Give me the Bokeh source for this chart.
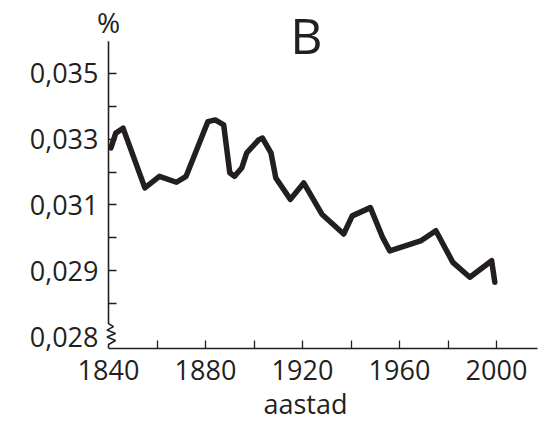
from bokeh.plotting import figure
from bokeh.models import Range1d, FixedTicker, CustomJSTickFormatter, Label, LinearAxis
from bokeh.embed import file_html
from bokeh.resources import INLINE

# ---- data ----
years = [1841, 1843, 1846, 1855, 1861, 1868, 1872, 1881, 1884, 1887.5, 1890, 1892,
         1895, 1897, 1902, 1903.5, 1907, 1909, 1915, 1920.5, 1928, 1937, 1940.5,
         1948, 1953, 1956, 1968.7, 1975, 1982, 1989, 1998, 1999.3]
share = [0.03273, 0.03318, 0.03333, 0.03152, 0.03187, 0.03169, 0.03187, 0.03353,
         0.03358, 0.03343, 0.03198, 0.03187, 0.03213, 0.03258, 0.03298, 0.03303,
         0.03258, 0.03182, 0.03117, 0.03167, 0.03072, 0.03012, 0.03067, 0.03092,
         0.03002, 0.02961, 0.02991, 0.03022, 0.02926, 0.02881, 0.02931, 0.02866]

x_label_ticks = [1840, 1880, 1920, 1960, 2000]
x_marks = [1860, 1880, 1900, 1920, 1940, 1960, 1980, 2000]
y_label_ticks = [0.027, 0.029, 0.031, 0.033, 0.035]   # 0.027 sits below the axis break, shown as 0,028
y_marks = [0.028, 0.029, 0.030, 0.031, 0.032, 0.033, 0.034, 0.035]

x_title = "aastad"
y_unit = "%"
panel_title = "B"

INK = "#231f20"
FONT = "Open Sans"

W, H = 557, 424
B_LEFT, B_RIGHT, B_TOP, B_BOTTOM = 94, 20, 0, 74
PX_YEAR = 2.425          # pixels per year
PX_UNIT = 33166.7        # pixels per unit of share
AXIS_X_PX = 108          # where 1840 sits
AXIS_Y_PX = 350          # where the x axis sits
Y_REF_PX, Y_REF = 272, 0.029

x_start = x_label_ticks[0]
x0 = x_start - (AXIS_X_PX - B_LEFT) / PX_YEAR
x1 = x_start + (W - B_RIGHT - AXIS_X_PX) / PX_YEAR


def y_at_px(py):
    return Y_REF + (Y_REF_PX - py) / PX_UNIT


y0 = y_at_px(H - B_BOTTOM)
y1 = y_at_px(B_TOP)

p = figure(width=W, height=H, x_range=Range1d(x0, x1), y_range=Range1d(y0, y1),
           output_backend="svg", toolbar_location=None,
           min_border_left=B_LEFT, min_border_right=B_RIGHT,
           min_border_top=B_TOP, min_border_bottom=B_BOTTOM)
p.outline_line_color = None
p.grid.visible = False
p.background_fill_color = "white"
p.border_fill_color = "white"

# x axis
xa = p.xaxis[0]
xa.ticker = FixedTicker(ticks=x_label_ticks, minor_ticks=x_marks)
xa.bounds = (x_start, x1)
xa.major_tick_in = 0
xa.major_tick_out = 0
xa.minor_tick_in = 8
xa.minor_tick_out = 0
xa.minor_tick_line_color = INK
xa.minor_tick_line_width = 1.3
xa.axis_line_color = INK
xa.axis_line_width = 1.6
xa.major_label_text_font = FONT
xa.major_label_text_font_size = "27px"
xa.major_label_text_color = INK
xa.major_label_standoff = 11
xa.axis_label = x_title + "\u00a0" * 3
xa.axis_label_text_font = FONT
xa.axis_label_text_font_size = "27px"
xa.axis_label_text_font_style = "normal"
xa.axis_label_text_color = INK
xa.axis_label_standoff = 2

# y axis labels (drawn beside the frame edge, pulled in to sit left of 1840)
ya = p.yaxis[0]
ya.ticker = FixedTicker(ticks=y_label_ticks, minor_ticks=[])
ya.formatter = CustomJSTickFormatter(
    code="return tick < 0.0275 ? '0,028' : tick.toFixed(3).replace('.', ',');")
ya.major_tick_in = 0
ya.major_tick_out = 0
ya.minor_tick_in = 0
ya.minor_tick_out = 0
ya.axis_line_color = None
ya.major_label_text_font = FONT
ya.major_label_text_font_size = "27px"
ya.major_label_text_color = INK
ya.major_label_standoff = 10 - (AXIS_X_PX - B_LEFT)

# y axis ticks, drawn at 1840
yt = LinearAxis(fixed_location=x_start,
                ticker=FixedTicker(ticks=y_marks, minor_ticks=[]),
                formatter=CustomJSTickFormatter(code="return '';"))
yt.major_tick_in = 8
yt.major_tick_out = 0
yt.minor_tick_in = 0
yt.minor_tick_out = 0
yt.major_tick_line_color = INK
yt.major_tick_line_width = 1.3
yt.axis_line_color = None
yt.major_label_standoff = 0
yt.major_label_text_font_size = "1px"
p.add_layout(yt, "left")

# vertical axis line with break (zigzag), built from the axis extent
zig_px = [(0, 25), (5, 22), (-1.5, 18.5), (7, 15), (-1.5, 11.5), (7, 8), (0, 4), (0, 0)]
ax_x = [x_start, x_start]
ax_y = [y_at_px(41), y_at_px(AXIS_Y_PX - 25)]
for dxp, dyp in zig_px:
    ax_x.append(x_start + dxp / PX_YEAR)
    ax_y.append(y_at_px(AXIS_Y_PX - dyp))
p.line(ax_x, ax_y, line_color=INK, line_width=1.6)

# data line
p.line(years, share, line_color=INK, line_width=5.5, line_join="round", line_cap="round")

# texts (placed by their visual centre)
p.add_layout(Label(x=x_start, y=y_at_px(22), text=y_unit, text_align="center",
                   text_baseline="middle", text_font=FONT, text_font_size="28px",
                   text_color=INK))
p.add_layout(Label(x=x_start + (306 - AXIS_X_PX) / PX_YEAR, y=y_at_px(35), text=panel_title,
                   text_align="center", text_baseline="middle", text_font=FONT,
                   text_font_size="50px", text_color=INK))

open("out.html", "w").write(file_html(p, INLINE))
